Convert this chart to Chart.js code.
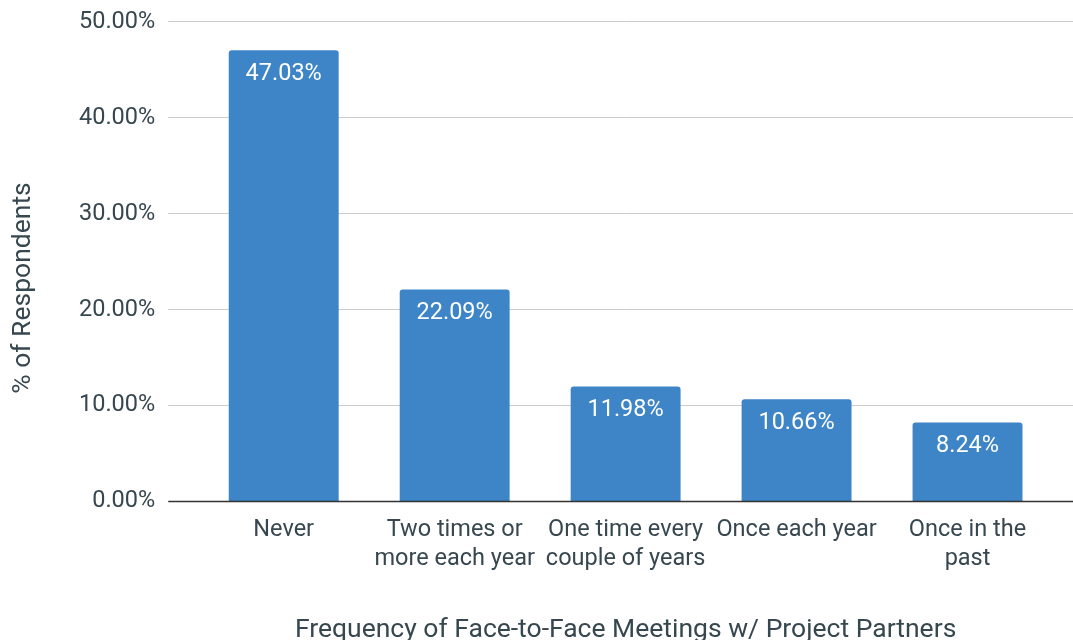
<!DOCTYPE html>
<html>
<head>
<meta charset="utf-8">
<script src="https://cdn.jsdelivr.net/npm/chart.js@4"></script>
<style>
  html, body { margin: 0; padding: 0; background: #ffffff; }
  #wrap { width: 1073px; height: 640px; }
</style>
</head>
<body>
<div id="wrap"><canvas id="c" width="1073" height="640"></canvas></div>
<script>
const categories = [
  ["Never"],
  ["Two times or", "more each year"],
  ["One time every", "couple of years"],
  ["Once each year"],
  ["Once in the", "past"]
];
const percentValues = [47.03, 22.09, 11.98, 10.66, 8.24];
const yTickValues = [0, 10, 20, 30, 40, 50];
const xAxisTitle = "Frequency of Face-to-Face Meetings w/ Project Partners";
const yAxisTitle = "% of Respondents";

const TEXT = '#37474f';
const GRID = '#cccccc';
const BASE = '#333333';
const FONT = 'Roboto';

function align(p) { return Math.round(p - 0.5) + 0.5; }

const gridExtend = {
  id: 'gridExtend',
  beforeDatasetsDraw(chart) {
    const y = chart.scales.y, ca = chart.chartArea, ctx = chart.ctx;
    ctx.save();
    ctx.lineWidth = 1;
    y.ticks.forEach(t => {
      if (t.value === 0) return;
      const py = align(y.getPixelForValue(t.value));
      ctx.strokeStyle = GRID;
      ctx.beginPath(); ctx.moveTo(ca.right - 1, py); ctx.lineTo(chart.width, py); ctx.stroke();
    });
    ctx.restore();
  },
  afterDatasetsDraw(chart) {
    const y = chart.scales.y, ca = chart.chartArea, ctx = chart.ctx;
    ctx.save();
    const py = align(y.getPixelForValue(0));
    ctx.strokeStyle = BASE; ctx.lineWidth = 1.5;
    ctx.beginPath(); ctx.moveTo(ca.left - 30, py); ctx.lineTo(chart.width, py); ctx.stroke();
    // value labels
    const meta = chart.getDatasetMeta(0);
    ctx.fillStyle = '#ffffff';
    ctx.font = '23.5px ' + FONT;
    ctx.textAlign = 'center';
    ctx.textBaseline = 'middle';
    meta.data.forEach((bar, i) => {
      ctx.fillText(percentValues[i].toFixed(2) + '%', bar.x, bar.y + 24);
    });
    // y axis title
    ctx.fillStyle = TEXT;
    ctx.font = '26.5px ' + FONT;
    ctx.translate(23, 288);
    ctx.rotate(-Math.PI / 2);
    ctx.fillText(yAxisTitle, 0, 0);
    ctx.restore();
  }
};

new Chart(document.getElementById('c'), {
  type: 'bar',
  data: {
    labels: categories,
    datasets: [{
      data: percentValues,
      backgroundColor: '#3d85c6',
      borderRadius: { topLeft: 3, topRight: 3 },
      borderSkipped: 'bottom',
      barPercentage: 0.643,
      categoryPercentage: 1.0
    }]
  },
  options: {
    responsive: false,
    animation: false,
    devicePixelRatio: 1,
    layout: { padding: { left: 66, right: 20, top: 0, bottom: 0 } },
    plugins: { legend: { display: false }, tooltip: { enabled: false } },
    scales: {
      x: {
        grid: { display: false, drawTicks: false },
        border: { display: false },
        ticks: {
          color: TEXT, font: { family: FONT, size: 23.5, lineHeight: 1.234 },
          padding: 14, maxRotation: 0, autoSkip: false
        },
        title: {
          display: true, text: xAxisTitle, color: TEXT,
          font: { family: FONT, size: 26.5, lineHeight: 1.0 },
          padding: { top: 30, bottom: -4 }
        }
      },
      y: {
        min: 0, max: 50,
        afterBuildTicks(scale) { scale.ticks = yTickValues.map(v => ({ value: v })); },
        grid: {
          color: ctx => ctx.tick && ctx.tick.value === 0 ? 'rgba(0,0,0,0)' : GRID,
          tickColor: ctx => ctx.tick && ctx.tick.value === 0 ? 'rgba(0,0,0,0)' : GRID,
          tickLength: 30, lineWidth: 1
        },
        border: { display: false },
        ticks: {
          color: TEXT, font: { family: FONT, size: 23.5, lineHeight: 0.75 }, padding: 13,
          callback: v => Number(v).toFixed(2) + '%'
        },
        title: { display: false }
      }
    }
  },
  plugins: [gridExtend]
});
</script>
</body>
</html>
